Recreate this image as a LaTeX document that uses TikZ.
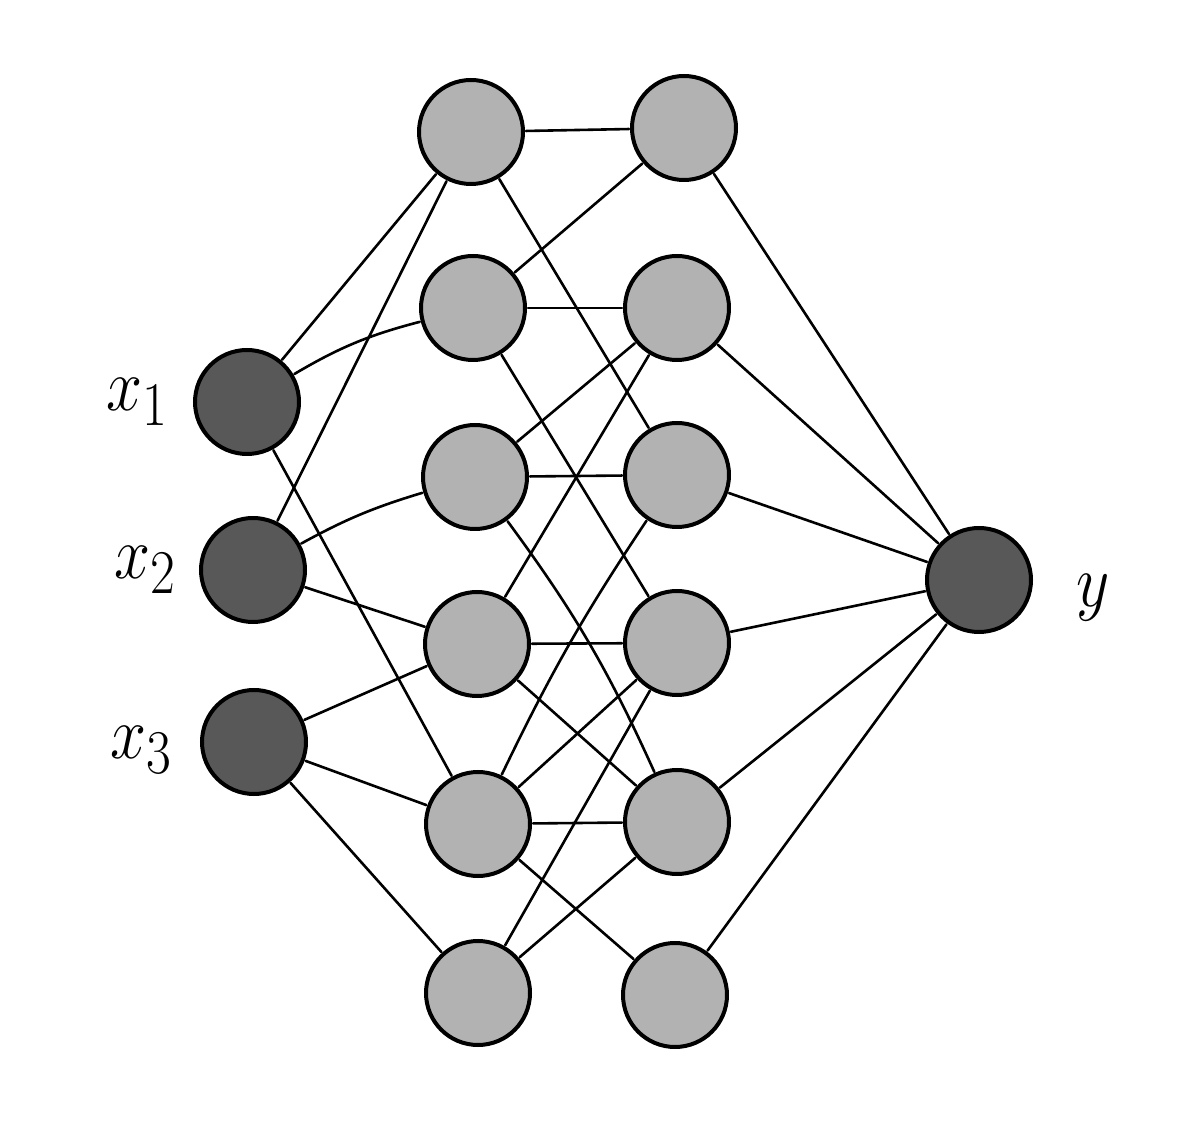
\documentclass[tikz,border=0pt]{standalone}
\definecolor{hidgray}{RGB}{178,178,178}
\definecolor{inpgray}{RGB}{88,88,88}
\newcommand{\biglab}[1]{\scalebox{1.3}[1.5]{\Huge$#1$}}
\begin{document}
\begin{tikzpicture}[x=0.5pt,y=-0.5pt,
  neuron/.style={circle, draw=black, line width=2pt, minimum size=52pt, inner sep=0pt, outer sep=0pt},
  hid/.style={neuron, fill=hidgray},
  inp/.style={neuron, fill=inpgray},
  edge/.style={line width=1.3pt, line cap=round, shorten <=1.5pt, shorten >=1.5pt},
  lab/.style={inner sep=0pt}]
\useasboundingbox (0,0) rectangle (1200,1122);
\fill[white] (0,0) rectangle (1200,1122);
% input layer
\node[inp] (x1) at (247,402) {};
\node[inp] (x2) at (253,570) {};
\node[inp] (x3) at (254,742) {};
% hidden layer 1
\node[hid] (h1) at (471,132) {};
\node[hid] (h2) at (473,308) {};
\node[hid] (h3) at (475,477) {};
\node[hid] (h4) at (477,644) {};
\node[hid] (h5) at (478,824) {};
\node[hid] (h6) at (478,993) {};
% hidden layer 2
\node[hid] (g1) at (684,128) {};
\node[hid] (g2) at (677,308) {};
\node[hid] (g3) at (677,475) {};
\node[hid] (g4) at (677,643) {};
\node[hid] (g5) at (677,822) {};
\node[hid] (g6) at (675,995) {};
% output
\node[inp] (y) at (979,580) {};
% labels
\node[lab] (lx1) at (138,402) {\biglab{x_1}};
\node[lab] (lx2) at (146,570) {\biglab{x_2}};
\node[lab] (lx3) at (142,750) {\biglab{x_3}};
\node[lab] (ly) at (1093,598) {\biglab{y}};
% input -> hidden 1
\draw[edge] (x1) -- (h1);
\draw[edge] (x1) to[bend left=8] (h2);
\draw[edge] (x1) -- (h5);
\draw[edge] (x2) -- (h1);
\draw[edge] (x2) to[bend left=6] (h3);
\draw[edge] (x2) -- (h4);
\draw[edge] (x3) -- (h4);
\draw[edge] (x3) -- (h5);
\draw[edge] (x3) -- (h6);
% hidden 1 -> hidden 2
\draw[edge] (h1) -- (g1);
\draw[edge] (h1) -- (g3);
\draw[edge] (h2) -- (g1);
\draw[edge] (h2) -- (g2);
\draw[edge] (h2) -- (g4);
\draw[edge] (h3) -- (g2);
\draw[edge] (h3) -- (g3);
\draw[edge] (h3) to[bend left=6] (g5);
\draw[edge] (h4) -- (g2);
\draw[edge] (h4) -- (g4);
\draw[edge] (h4) -- (g5);
\draw[edge] (h5) to[bend left=4] (g3);
\draw[edge] (h5) -- (g4);
\draw[edge] (h5) -- (g5);
\draw[edge] (h5) -- (g6);
\draw[edge] (h6) -- (g4);
\draw[edge] (h6) -- (g5);
% hidden 2 -> output
\draw[edge] (g1) -- (y);
\draw[edge] (g2) -- (y);
\draw[edge] (g3) -- (y);
\draw[edge] (g4) -- (y);
\draw[edge] (g5) -- (y);
\draw[edge] (g6) -- (y);
\end{tikzpicture}
\end{document}
